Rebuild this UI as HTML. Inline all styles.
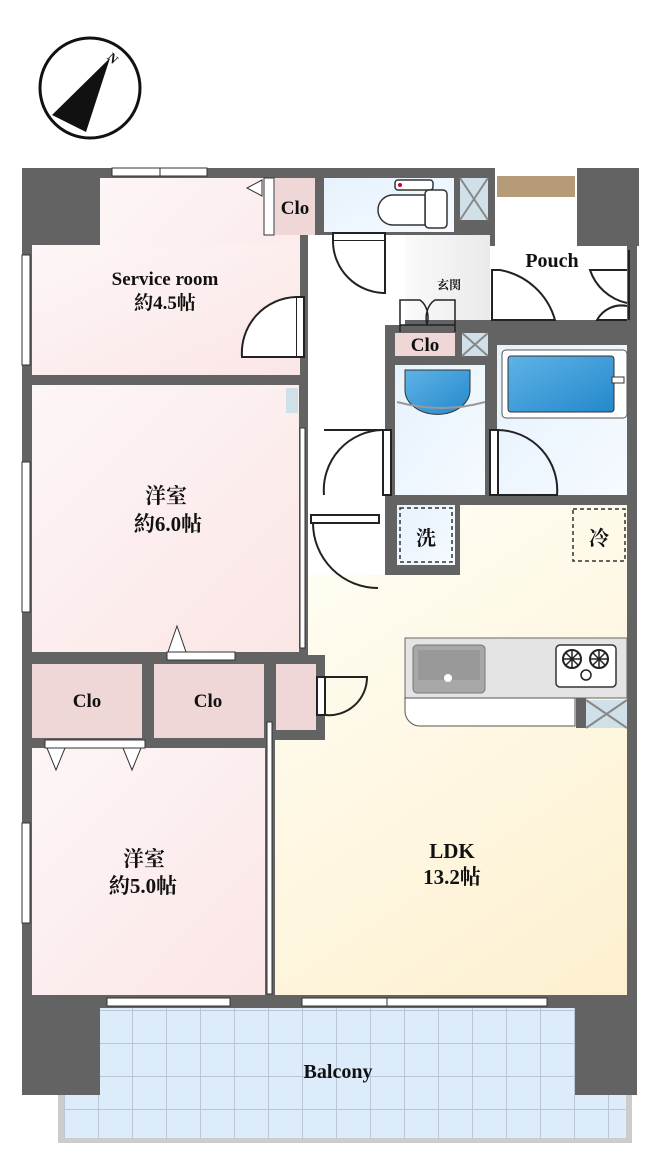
<!DOCTYPE html>
<html><head><meta charset="utf-8"><style>
html,body{margin:0;padding:0;background:#fff;}
svg{display:block;}
text{font-family:"Liberation Serif","Noto Serif CJK SC",serif;font-weight:bold;fill:#111;}
</style></head><body>
<svg width="650" height="1158" viewBox="0 0 650 1158" xmlns="http://www.w3.org/2000/svg">
<defs>
<linearGradient id="pink" x1="0" y1="0" x2="1" y2="1"><stop offset="0" stop-color="#fdf6f6"/><stop offset="1" stop-color="#fbe6e6"/></linearGradient>
<linearGradient id="ldk" gradientUnits="userSpaceOnUse" x1="300" y1="500" x2="627" y2="995"><stop offset="0" stop-color="#fffef6"/><stop offset="1" stop-color="#fdf0cf"/></linearGradient>
<linearGradient id="blue" x1="0" y1="0" x2="1" y2="1"><stop offset="0" stop-color="#e6f2fc"/><stop offset="1" stop-color="#f5faff"/></linearGradient>
<linearGradient id="tub" x1="0" y1="0" x2="1" y2="1"><stop offset="0" stop-color="#5fb3e6"/><stop offset="1" stop-color="#2488cc"/></linearGradient>
<linearGradient id="gen" x1="0" y1="0" x2="1" y2="0"><stop offset="0" stop-color="#fafafa"/><stop offset="1" stop-color="#eaeaea"/></linearGradient>
<pattern id="tile" width="34" height="33" patternUnits="userSpaceOnUse" x="64" y="1010"><rect width="34" height="33" fill="#dcecfb"/><path d="M0 0V33M0 0H34" stroke="#b9c6d6" stroke-width="2"/></pattern>
</defs>
<circle cx="90" cy="88" r="50" fill="#fff" stroke="#111" stroke-width="3"/>
<polygon points="110,58 52,115 86,132" fill="#111"/>
<text x="108" y="62" font-size="13" font-weight="normal" transform="rotate(45 112 58)">N</text>

<rect x="58" y="1005" width="574" height="138" fill="#ccc"/>
<rect x="64" y="1008" width="562" height="130" fill="url(#tile)"/>

<rect x="22" y="168" width="615" height="840" fill="#636363"/>
<rect x="22" y="995" width="78" height="100" fill="#636363"/>
<rect x="575" y="995" width="62" height="100" fill="#636363"/>
<rect x="495" y="168" width="82" height="78" fill="#fff"/>
<rect x="497" y="176" width="78" height="21" fill="#b69b78"/>
<rect x="577" y="168" width="62" height="78" fill="#636363"/>

<rect x="100" y="178" width="200" height="197" fill="url(#pink)"/>
<rect x="32" y="245" width="268" height="130" fill="url(#pink)"/>
<rect x="32" y="385" width="267" height="267" fill="url(#pink)"/>
<rect x="32" y="664" width="110" height="74" fill="#efd7d8"/>
<rect x="154" y="664" width="110" height="74" fill="#efd7d8"/>
<rect x="276" y="664" width="40" height="66" fill="#efd7d8"/>
<rect x="32" y="748" width="233" height="247" fill="url(#pink)"/>
<rect x="275" y="740" width="352" height="255" fill="url(#ldk)"/>
<rect x="325" y="575" width="302" height="170" fill="url(#ldk)"/>
<rect x="308" y="575" width="20" height="80" fill="url(#ldk)"/>
<rect x="460" y="505" width="167" height="75" fill="url(#ldk)"/>
<rect x="308" y="235" width="77" height="340" fill="#fff"/>
<rect x="385" y="235" width="20" height="90" fill="#fff"/>
<rect x="405" y="235" width="85" height="85" fill="url(#gen)"/>
<rect x="490" y="246" width="137" height="74" fill="#fff"/>
<rect x="275" y="178" width="40" height="57" fill="#efd7d8"/>
<rect x="264" y="178" width="10" height="57" fill="#fff" stroke="#333"/>
<rect x="324" y="178" width="130" height="54" fill="url(#blue)"/>
<rect x="460" y="178" width="28" height="42" fill="#cfe0e8"/>
<path d="M460 178L488 220M488 178L460 220" stroke="#888" stroke-width="2"/>
<rect x="395" y="180" width="38" height="10" rx="3" fill="#fff" stroke="#333" stroke-width="1.5"/>
<rect x="425" y="190" width="22" height="38" rx="4" fill="#fff" stroke="#333" stroke-width="1.5"/>
<path d="M425 195H393a12 12 0 0 0 0 30H425Z" fill="#fff" stroke="#333" stroke-width="1.5"/>
<circle cx="400" cy="185" r="2" fill="#c03"/>
<rect x="395" y="333" width="60" height="23" fill="#efd7d8"/>
<rect x="462" y="333" width="26" height="23" fill="#cfe0e8"/>
<path d="M462 333L488 356M488 333L462 356" stroke="#888" stroke-width="2"/>
<rect x="395" y="365" width="90" height="130" fill="url(#blue)"/>
<rect x="497" y="345" width="130" height="150" fill="url(#blue)"/>
<rect x="502" y="350" width="125" height="68" rx="4" fill="#fff" stroke="#555"/>
<rect x="508" y="356" width="106" height="56" rx="3" fill="url(#tub)" stroke="#333"/>
<rect x="612" y="377" width="12" height="6" fill="#fff" stroke="#333"/>
<path d="M405 370h65v20a32 24 0 0 1-65 0Z" fill="url(#tub)" stroke="#333"/>
<path d="M397 402q45 12 88 0" fill="none" stroke="#999" stroke-width="2"/>
<rect x="397" y="505" width="58" height="60" fill="url(#blue)"/>
<rect x="400" y="508" width="52" height="54" fill="none" stroke="#333" stroke-width="1.5" stroke-dasharray="4 3"/>
<text x="426" y="545" font-size="20" text-anchor="middle" font-family="Noto Sans CJK JP,sans-serif">洗</text>
<rect x="573" y="509" width="52" height="52" fill="none" stroke="#333" stroke-width="1.5" stroke-dasharray="4 3"/>
<text x="599" y="545" font-size="20" text-anchor="middle" font-family="Noto Sans CJK JP,sans-serif">冷</text>
<rect x="405" y="638" width="222" height="60" fill="#e4e4e4" stroke="#666"/>
<path d="M405 698h170v28H420a15 15 0 0 1-15-15Z" fill="#fff" stroke="#555"/>
<rect x="413" y="645" width="72" height="48" rx="4" fill="#a8a8a8" stroke="#777"/>
<rect x="418" y="650" width="62" height="30" fill="#999"/>
<circle cx="448" cy="678" r="4" fill="#fff"/>
<rect x="556" y="645" width="60" height="42" rx="4" fill="#fff" stroke="#333" stroke-width="1.5"/>
<circle cx="572" cy="659" r="9" fill="#fff" stroke="#222" stroke-width="2"/><circle cx="599" cy="659" r="9" fill="#fff" stroke="#222" stroke-width="2"/><circle cx="586" cy="675" r="5" fill="#fff" stroke="#222" stroke-width="1.5"/>
<path d="M563 659h18M572 650v18M566 653l12 12M578 653l-12 12M590 659h18M599 650v18M593 653l12 12M605 653l-12 12" stroke="#222" stroke-width="1.5"/>
<rect x="576" y="698" width="10" height="30" fill="#636363"/>
<rect x="586" y="700" width="41" height="28" fill="#cfe0e8"/>
<path d="M586 700L627 728M627 700L586 728" stroke="#888" stroke-width="2"/>
<rect x="286" y="388" width="12" height="25" fill="#cfe0e8"/>

<rect x="112" y="168" width="95" height="8" fill="#fff" stroke="#333"/>
<line x1="160" y1="168" x2="160" y2="176" stroke="#333"/>
<rect x="22" y="255" width="8" height="110" fill="#fff" stroke="#333"/>
<rect x="22" y="462" width="8" height="150" fill="#fff" stroke="#333"/>
<rect x="22" y="823" width="8" height="100" fill="#fff" stroke="#333"/>
<rect x="107" y="998" width="123" height="8" fill="#fff" stroke="#333"/>
<rect x="302" y="998" width="245" height="8" fill="#fff" stroke="#333"/>
<line x1="387" y1="998" x2="387" y2="1006" stroke="#333"/>
<rect x="300" y="428" width="5" height="220" fill="#fff" stroke="#333"/>
<rect x="267" y="722" width="5" height="272" fill="#fff" stroke="#333"/>
<rect x="167" y="652" width="68" height="8" fill="#fff" stroke="#333"/>
<polygon points="168,652 177,626 186,652" fill="#fff" stroke="#333"/>
<rect x="45" y="740" width="100" height="8" fill="#fff" stroke="#333"/>
<polygon points="47,748 56,770 65,748" fill="#fff" stroke="#333"/>
<polygon points="123,748 132,770 141,748" fill="#fff" stroke="#333"/>
<polygon points="262,180 247,188 262,196" fill="#fff" stroke="#333"/>
<g fill="#fff" stroke="#222" stroke-width="2">
<rect x="296" y="297" width="8" height="60"/><path d="M296 297A56 56 0 0 0 242 357H296" fill="#fff"/>
<rect x="333" y="233" width="52" height="8"/><path d="M333 241A52 52 0 0 0 385 293V241" />
<rect x="383" y="430" width="8" height="65"/><path d="M383 430A60 60 0 0 0 324 495" fill="none"/><line x1="324" y1="430" x2="383" y2="430"/>
<rect x="490" y="430" width="8" height="65"/><path d="M498 430A60 60 0 0 1 557 495H498" fill="none"/>
<rect x="311" y="515" width="68" height="8"/><path d="M313 523A65 65 0 0 0 378 588" fill="none"/>
<rect x="317" y="677" width="8" height="38"/><path d="M325 677H367A38 38 0 0 1 325 715" fill="none"/>
<path d="M492 270H500A70 70 0 0 1 555 320H492Z" fill="none"/>
<path d="M627 270H590A50 50 0 0 0 627 303M627 306A28 28 0 0 0 597 320H627" fill="none"/>
<line x1="629" y1="250" x2="629" y2="320"/>
<path d="M400 332V300H420A15 20 0 0 1 427 325M455 332V300H435A15 20 0 0 0 427 325" fill="none" stroke-width="1.5"/>
<line x1="400" y1="325" x2="455" y2="325" stroke-width="1.5"/>
</g>

<text x="165" y="285" font-size="19" text-anchor="middle">Service room</text>
<text x="165" y="309" font-size="19" text-anchor="middle" font-family="Liberation Serif,Noto Sans CJK JP,serif">約4.5帖</text>
<text x="166" y="503" font-size="21" text-anchor="middle" font-family="Noto Sans CJK JP,sans-serif">洋室</text>
<text x="168" y="531" font-size="21" text-anchor="middle" font-family="Liberation Serif,Noto Sans CJK JP,serif">約6.0帖</text>
<text x="144" y="866" font-size="21" text-anchor="middle" font-family="Noto Sans CJK JP,sans-serif">洋室</text>
<text x="143" y="893" font-size="21" text-anchor="middle" font-family="Liberation Serif,Noto Sans CJK JP,serif">約5.0帖</text>
<text x="452" y="858" font-size="21" text-anchor="middle">LDK</text>
<text x="452" y="884" font-size="21" text-anchor="middle" font-family="Liberation Serif,Noto Sans CJK JP,serif">13.2帖</text>
<text x="87" y="707" font-size="19" text-anchor="middle">Clo</text>
<text x="208" y="707" font-size="19" text-anchor="middle">Clo</text>
<text x="295" y="214" font-size="19" text-anchor="middle">Clo</text>
<text x="425" y="351" font-size="19" text-anchor="middle">Clo</text>
<text x="552" y="267" font-size="20" text-anchor="middle">Pouch</text>
<text x="449" y="289" font-size="12" text-anchor="middle" font-family="Noto Sans CJK JP,sans-serif">玄関</text>
<text x="338" y="1078" font-size="20" text-anchor="middle">Balcony</text>
</svg>
</body></html>
